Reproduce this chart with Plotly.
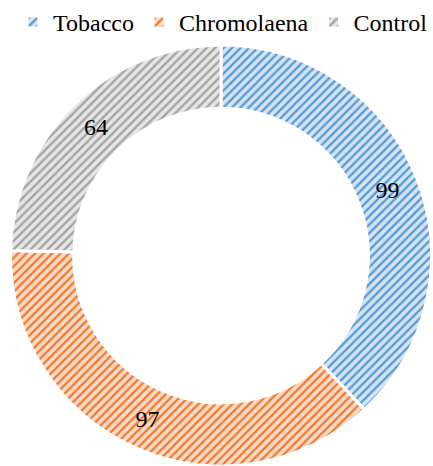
import plotly.graph_objects as go

# Series data
categories = ["Tobacco", "Chromolaena", "Control"]
values = [99, 97, 64]

# Colour scheme: dark hatch lines over a light tint of the same hue
line_colors = ["#5B9BD5", "#ED7D31", "#A5A5A5"]
tint_colors = ["#D5E5F5", "#FBDCCB", "#E6E6E6"]

SERIF = "Liberation Serif, Times New Roman, serif"

fig = go.Figure(
    go.Pie(
        labels=categories,
        values=values,
        hole=0.70,
        sort=False,
        direction="clockwise",
        rotation=0,
        textinfo="value",
        textposition="inside",
        insidetextorientation="horizontal",
        textfont=dict(family=SERIF, size=24, color="black"),
        marker=dict(
            colors=tint_colors,
            line=dict(color="white", width=3),
            pattern=dict(
                shape="/",
                fgcolor=line_colors,
                bgcolor=tint_colors,
                size=6,
                solidity=0.4,
                fillmode="replace",
            ),
        ),
        showlegend=True,
    )
)

fig.update_layout(
    width=433,
    height=466,
    margin=dict(l=9, r=0, t=45, b=0),
    paper_bgcolor="white",
    plot_bgcolor="white",
    font=dict(family=SERIF, size=24, color="black"),
    legend=dict(
        orientation="h",
        x=0.556,
        xanchor="center",
        y=1 + 23 / 421,
        yanchor="middle",
        font=dict(family=SERIF, size=24, color="black"),
        itemwidth=30,
        tracegroupgap=0,
    ),
)

fig.write_html("out.html")
